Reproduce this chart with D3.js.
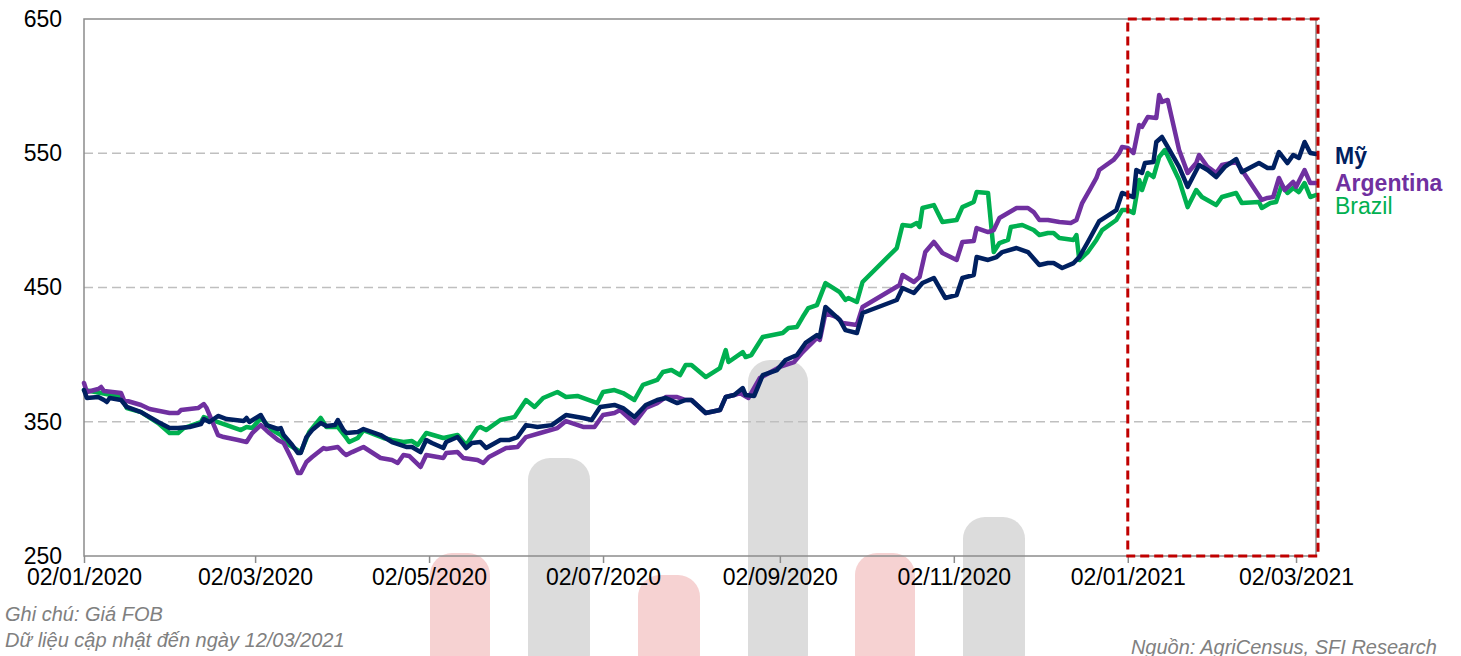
<!DOCTYPE html>
<html>
<head>
<meta charset="utf-8">
<script src="https://cdn.jsdelivr.net/npm/d3@7"></script>
<style>
  body { margin: 0; background: #fff; }
  svg { display: block; font-family: "Liberation Sans", Arial, sans-serif; }
</style>
</head>
<body>
<script>
// gia FOB theo ngay (USD/tan)
var myData = [["2020-01-02",373.6],["2020-01-03",367.7],["2020-01-07",368.4],["2020-01-09",366.2],["2020-01-10",364.7],["2020-01-11",367.7],["2020-01-15",366.2],["2020-01-17",361.0],["2020-01-22",357.2],["2020-01-28",349.8],["2020-02-01",345.3],["2020-02-04",345.3],["2020-02-08",346.1],["2020-02-12",348.3],["2020-02-13",352.0],["2020-02-15",349.8],["2020-02-18",354.3],["2020-02-21",352.0],["2020-02-27",350.5],["2020-02-28",352.8],["2020-02-29",349.8],["2020-03-04",355.0],["2020-03-06",347.5],["2020-03-10",344.6],["2020-03-11",345.3],["2020-03-12",340.1],["2020-03-15",332.7],["2020-03-17",326.7],["2020-03-18",326.7],["2020-03-20",338.6],["2020-03-22",343.8],["2020-03-25",349.0],["2020-03-27",346.8],["2020-03-30",347.5],["2020-03-31",351.3],["2020-04-02",343.8],["2020-04-03",341.6],["2020-04-07",342.4],["2020-04-09",344.6],["2020-04-15",340.1],["2020-04-19",334.9],["2020-04-24",331.2],["2020-04-26",331.2],["2020-04-29",327.4],["2020-05-01",336.4],["2020-05-03",334.2],["2020-05-07",330.4],["2020-05-08",334.9],["2020-05-12",338.6],["2020-05-15",330.4],["2020-05-17",334.2],["2020-05-20",334.9],["2020-05-22",330.4],["2020-05-27",336.4],["2020-05-30",336.4],["2020-06-02",338.6],["2020-06-05",347.5],["2020-06-09",346.1],["2020-06-14",347.5],["2020-06-19",355.0],["2020-06-25",352.8],["2020-06-28",351.3],["2020-07-01",361.0],["2020-07-06",362.5],["2020-07-09",360.2],["2020-07-13",353.5],["2020-07-17",362.5],["2020-07-21",366.2],["2020-07-24",367.7],["2020-07-28",363.9],["2020-07-31",366.2],["2020-08-02",366.2],["2020-08-07",356.5],["2020-08-12",358.7],["2020-08-14",368.4],["2020-08-17",369.9],["2020-08-20",375.1],["2020-08-21",369.9],["2020-08-24",369.2],["2020-08-27",384.8],["2020-09-01",388.5],["2020-09-04",396.0],["2020-09-08",399.7],["2020-09-11",408.7],["2020-09-15",414.6],["2020-09-16",413.1],["2020-09-18",435.5],["2020-09-23",425.8],["2020-09-25",418.3],["2020-09-29",416.1],["2020-10-01",431.0],["2020-10-13",440.7],["2020-10-15",449.6],["2020-10-19",445.9],["2020-10-22",453.3],["2020-10-26",457.1],["2020-10-30",442.2],["2020-11-03",444.4],["2020-11-05",457.1],["2020-11-09",459.3],["2020-11-10",472.7],["2020-11-14",470.5],["2020-11-17",472.7],["2020-11-19",476.4],["2020-11-24",479.4],["2020-11-28",476.4],["2020-12-02",466.8],["2020-12-05",468.2],["2020-12-07",468.2],["2020-12-10",464.5],["2020-12-14",468.2],["2020-12-16",472.7],["2020-12-19",483.9],["2020-12-23",499.5],["2020-12-29",507.7],["2020-12-31",520.4],["2021-01-04",517.4],["2021-01-05",537.5],["2021-01-07",535.3],["2021-01-08",542.7],["2021-01-11",543.5],["2021-01-12",558.4],["2021-01-14",562.1],["2021-01-16",554.7],["2021-01-20",539.8],["2021-01-23",524.9],["2021-01-27",541.2],["2021-01-30",537.5],["2021-02-02",532.3],["2021-02-05",539.8],["2021-02-09",545.7],["2021-02-11",536.0],["2021-02-17",542.7],["2021-02-20",539.0],["2021-02-22",539.0],["2021-02-24",550.9],["2021-02-27",542.7],["2021-03-01",548.7],["2021-03-03",546.5],["2021-03-05",558.4],["2021-03-07",550.2],["2021-03-09",549.4]];

var argData = [["2020-01-02",378.9],["2020-01-03",372.2],["2020-01-07",374.4],["2020-01-08",375.9],["2020-01-09",372.9],["2020-01-15",371.4],["2020-01-16",366.2],["2020-01-22",362.5],["2020-01-25",359.5],["2020-02-01",356.5],["2020-02-04",356.5],["2020-02-05",358.7],["2020-02-11",360.2],["2020-02-13",363.2],["2020-02-14",360.2],["2020-02-18",340.1],["2020-02-20",338.6],["2020-02-25",336.4],["2020-02-28",334.9],["2020-03-01",341.6],["2020-03-04",347.5],["2020-03-07",341.6],["2020-03-10",336.4],["2020-03-12",334.2],["2020-03-15",321.5],["2020-03-17",311.8],["2020-03-18",311.8],["2020-03-20",320.0],["2020-03-22",323.7],["2020-03-26",330.4],["2020-03-27",329.7],["2020-03-31",331.2],["2020-04-02",326.7],["2020-04-03",325.2],["2020-04-05",327.4],["2020-04-09",331.2],["2020-04-15",323.0],["2020-04-19",321.5],["2020-04-21",319.3],["2020-04-23",325.2],["2020-04-25",324.5],["2020-04-29",316.3],["2020-05-01",325.2],["2020-05-07",323.0],["2020-05-08",326.7],["2020-05-12",327.4],["2020-05-14",323.0],["2020-05-19",321.5],["2020-05-21",319.3],["2020-05-23",323.7],["2020-05-29",330.4],["2020-06-02",331.2],["2020-06-05",338.6],["2020-06-10",341.6],["2020-06-16",345.3],["2020-06-19",350.5],["2020-06-25",346.1],["2020-06-29",346.1],["2020-07-02",355.0],["2020-07-06",356.5],["2020-07-08",358.7],["2020-07-13",349.0],["2020-07-17",360.2],["2020-07-21",363.9],["2020-07-24",368.4],["2020-07-28",368.4],["2020-07-31",366.2],["2020-08-02",366.2],["2020-08-07",356.5],["2020-08-12",358.7],["2020-08-14",368.4],["2020-08-17",369.9],["2020-08-19",371.4],["2020-08-22",367.7],["2020-08-26",382.6],["2020-09-02",390.8],["2020-09-07",394.5],["2020-09-10",401.9],["2020-09-15",412.4],["2020-09-16",410.9],["2020-09-18",431.0],["2020-09-22",428.0],["2020-09-24",423.6],["2020-09-29",422.1],["2020-10-01",435.5],["2020-10-14",451.9],["2020-10-15",459.3],["2020-10-19",454.1],["2020-10-21",457.8],["2020-10-23",476.4],["2020-10-26",483.9],["2020-10-29",475.7],["2020-11-03",470.5],["2020-11-05",483.9],["2020-11-09",484.6],["2020-11-10",494.3],["2020-11-14",491.3],["2020-11-16",492.8],["2020-11-18",501.8],["2020-11-21",505.5],["2020-11-24",509.2],["2020-11-28",509.2],["2020-11-30",506.2],["2020-12-02",500.3],["2020-12-05",500.3],["2020-12-09",498.8],["2020-12-13",498.0],["2020-12-15",500.3],["2020-12-17",512.9],["2020-12-20",524.1],["2020-12-22",531.6],["2020-12-23",537.5],["2020-12-28",545.0],["2020-12-30",550.2],["2020-12-31",554.7],["2021-01-02",554.0],["2021-01-04",550.2],["2021-01-06",571.0],["2021-01-07",569.6],["2021-01-09",577.0],["2021-01-12",576.3],["2021-01-13",593.4],["2021-01-14",588.2],["2021-01-16",589.7],["2021-01-20",552.4],["2021-01-23",535.3],["2021-01-26",542.7],["2021-01-27",548.7],["2021-01-30",539.8],["2021-02-02",535.3],["2021-02-04",541.2],["2021-02-09",543.5],["2021-02-11",537.5],["2021-02-18",515.2],["2021-02-20",516.7],["2021-02-22",517.4],["2021-02-24",531.6],["2021-02-26",522.6],["2021-03-01",528.6],["2021-03-02",524.9],["2021-03-05",537.5],["2021-03-07",527.8],["2021-03-09",527.8]];

var braData = [["2020-01-02",373.6],["2020-01-08",371.4],["2020-01-15",368.4],["2020-01-17",360.2],["2020-01-22",357.2],["2020-01-28",349.0],["2020-02-01",341.6],["2020-02-04",341.6],["2020-02-06",345.3],["2020-02-12",349.8],["2020-02-13",353.5],["2020-02-19",349.0],["2020-02-26",343.8],["2020-02-28",346.1],["2020-03-01",345.3],["2020-03-04",352.8],["2020-03-08",343.8],["2020-03-11",340.1],["2020-03-14",332.7],["2020-03-18",327.4],["2020-03-21",342.4],["2020-03-25",352.8],["2020-03-27",346.1],["2020-03-31",346.1],["2020-04-03",337.9],["2020-04-04",334.9],["2020-04-07",337.9],["2020-04-09",343.8],["2020-04-16",337.9],["2020-04-19",336.4],["2020-04-23",334.9],["2020-04-26",335.6],["2020-04-28",332.7],["2020-05-01",341.6],["2020-05-07",337.9],["2020-05-12",340.1],["2020-05-15",332.7],["2020-05-19",345.3],["2020-05-20",346.1],["2020-05-22",343.8],["2020-05-27",351.3],["2020-06-01",353.5],["2020-06-05",366.2],["2020-06-08",361.0],["2020-06-11",367.7],["2020-06-16",372.2],["2020-06-19",368.4],["2020-06-23",369.2],["2020-06-30",363.9],["2020-07-02",372.2],["2020-07-06",373.6],["2020-07-09",371.4],["2020-07-13",366.2],["2020-07-16",377.4],["2020-07-21",381.1],["2020-07-23",387.1],["2020-07-26",388.5],["2020-07-29",384.8],["2020-07-31",392.3],["2020-08-02",392.3],["2020-08-07",383.3],["2020-08-12",390.0],["2020-08-14",403.4],["2020-08-15",394.5],["2020-08-20",401.9],["2020-08-21",398.2],["2020-08-23",399.7],["2020-08-27",413.1],["2020-09-03",416.1],["2020-09-05",419.8],["2020-09-08",420.6],["2020-09-10",428.0],["2020-09-12",434.7],["2020-09-15",436.9],["2020-09-18",453.3],["2020-09-23",446.6],["2020-09-25",440.7],["2020-09-26",442.2],["2020-09-29",439.2],["2020-10-01",454.1],["2020-10-13",479.4],["2020-10-15",496.6],["2020-10-18",495.8],["2020-10-20",498.0],["2020-10-21",495.1],["2020-10-22",509.2],["2020-10-26",511.4],["2020-10-29",498.8],["2020-11-03",500.3],["2020-11-05",509.9],["2020-11-09",513.7],["2020-11-10",521.1],["2020-11-14",520.4],["2020-11-16",476.4],["2020-11-18",483.1],["2020-11-21",485.4],["2020-11-22",495.1],["2020-11-26",496.6],["2020-11-30",492.8],["2020-12-02",489.1],["2020-12-05",490.6],["2020-12-07",490.6],["2020-12-09",486.9],["2020-12-14",485.4],["2020-12-15",489.1],["2020-12-16",470.5],["2020-12-19",476.4],["2020-12-22",485.4],["2020-12-24",492.8],["2020-12-29",500.3],["2020-12-31",507.7],["2021-01-02",507.7],["2021-01-04",505.5],["2021-01-06",530.1],["2021-01-07",522.6],["2021-01-09",535.3],["2021-01-11",532.3],["2021-01-13",547.2],["2021-01-15",552.4],["2021-01-20",530.1],["2021-01-23",509.9],["2021-01-26",522.6],["2021-01-28",517.4],["2021-02-02",511.4],["2021-02-04",517.4],["2021-02-09",520.4],["2021-02-11",512.9],["2021-02-17",513.7],["2021-02-18",509.2],["2021-02-21",512.9],["2021-02-23",513.7],["2021-02-25",526.4],["2021-02-27",520.4],["2021-03-01",524.1],["2021-03-03",521.1],["2021-03-05",527.8],["2021-03-07",517.4],["2021-03-09",518.9]];

var seriesNames = ["Brazil", "Argentina", "Mỹ"];
var yTicks = [250, 350, 450, 550, 650];
var xTickDates = ["2020-01-02","2020-03-02","2020-05-02","2020-07-02","2020-09-02","2020-11-02","2021-01-02","2021-03-02"];
var xStart = "2020-01-02", xEnd = "2021-03-09";
var zoomStart = "2021-01-02";   // khung do net dut
var noteLines = ["Ghi chú: Giá FOB", "Dữ liệu cập nhật đến ngày 12/03/2021"];
var sourceText = "Nguồn: AgriCensus, SFI Research";

var W = 1461, H = 656;
var pL = 84, pR = 1316, pT = 19, pB = 556;
var parse = d3.timeParse("%Y-%m-%d");
var fmt = d3.timeFormat("%d/%m/%Y");

var svg = d3.select("body").append("svg").attr("width", W).attr("height", H);

// watermark mo phia sau (cac cot mo)
var marks = [
  {x: 430, w: 60, t: 553, c: "#f6d2d2"},
  {x: 528, w: 62, t: 458, c: "#dcdcdc"},
  {x: 638, w: 62, t: 575, c: "#f6d2d2"},
  {x: 748, w: 60, t: 360, c: "#dcdcdc"},
  {x: 855, w: 60, t: 553, c: "#f6d2d2"},
  {x: 963, w: 62, t: 517, c: "#dcdcdc"}
];
svg.selectAll("rect.wm").data(marks).enter().append("rect")
  .attr("class", "wm")
  .attr("x", function(d){ return d.x; })
  .attr("y", function(d){ return d.t; })
  .attr("width", function(d){ return d.w; })
  .attr("height", function(d){ return H - d.t + 20; })
  .attr("rx", 22)
  .attr("fill", function(d){ return d.c; });

var x = d3.scaleTime().domain([parse(xStart), parse(xEnd)]).range([pL, pR]);
var y = d3.scaleLinear().domain([250, 650]).range([pB, pT]);

// luoi ngang net dut
svg.selectAll("line.grid").data([350, 450, 550]).enter().append("line")
  .attr("class", "grid")
  .attr("x1", pL).attr("x2", pR)
  .attr("y1", function(d){ return y(d); }).attr("y2", function(d){ return y(d); })
  .attr("stroke", "#bfbfbf").attr("stroke-width", 1.5).attr("stroke-dasharray", "9,5");

// khung
svg.append("rect").attr("x", pL).attr("y", pT)
  .attr("width", pR - pL).attr("height", pB - pT)
  .attr("fill", "none").attr("stroke", "#8c8c8c").attr("stroke-width", 1.5);

// truc y
var yAxis = svg.append("g").attr("transform", "translate(" + pL + ",0)")
  .call(d3.axisLeft(y).tickValues(yTicks).tickSize(0).tickPadding(22));
yAxis.select(".domain").remove();
yAxis.selectAll("text").attr("font-size", 23).attr("fill", "#000")
  .attr("font-family", "Liberation Sans, Arial, sans-serif");

// truc x
var xAxis = svg.append("g").attr("transform", "translate(0," + pB + ")")
  .call(d3.axisBottom(x).tickValues(xTickDates.map(parse)).tickFormat(fmt).tickSize(7).tickPadding(6));
xAxis.select(".domain").remove();
xAxis.selectAll("line").attr("stroke", "#8c8c8c").attr("stroke-width", 1.5);
xAxis.selectAll("text").attr("font-size", 23).attr("fill", "#000")
  .attr("font-family", "Liberation Sans, Arial, sans-serif");

// duong gia
var line = d3.line()
  .x(function(d){ return x(parse(d[0])); })
  .y(function(d){ return y(d[1]); });

var series = [
  {name: seriesNames[0], data: braData, color: "#00b050"},
  {name: seriesNames[1], data: argData, color: "#7030a0"},
  {name: seriesNames[2], data: myData, color: "#002060"}
];
svg.selectAll("path.s").data(series).enter().append("path")
  .attr("class", "s")
  .attr("d", function(d){ return line(d.data); })
  .attr("fill", "none")
  .attr("stroke", function(d){ return d.color; })
  .attr("stroke-width", 4.5)
  .attr("stroke-linejoin", "round")
  .attr("stroke-linecap", "round");

// khung do
var zx = x(parse(zoomStart));
svg.append("rect").attr("x", zx).attr("y", pT)
  .attr("width", pR + 2 - zx).attr("height", pB - pT)
  .attr("fill", "none").attr("stroke", "#c00000").attr("stroke-width", 3)
  .attr("stroke-dasharray", "9,5");

// chu thich
var legend = [
  {t: seriesNames[2], c: "#002060", w: "bold", yb: 164},
  {t: seriesNames[1], c: "#7030a0", w: "bold", yb: 191},
  {t: seriesNames[0], c: "#00b050", w: "normal", yb: 214}
];
svg.selectAll("text.lg").data(legend).enter().append("text")
  .attr("class", "lg")
  .attr("x", 1335).attr("y", function(d){ return d.yb; })
  .attr("font-size", 23)
  .attr("font-weight", function(d){ return d.w; })
  .attr("fill", function(d){ return d.c; })
  .text(function(d){ return d.t; });

// ghi chu
svg.selectAll("text.note").data(noteLines).enter().append("text")
  .attr("class", "note")
  .attr("x", 5).attr("y", function(d, i){ return 621 + i * 26; })
  .attr("font-size", 20).attr("font-style", "italic").attr("fill", "#808080")
  .text(function(d){ return d; });

svg.append("text").attr("x", 1437).attr("y", 654)
  .attr("text-anchor", "end")
  .attr("font-size", 20).attr("font-style", "italic").attr("fill", "#808080")
  .text(sourceText);
</script>
</body>
</html>
